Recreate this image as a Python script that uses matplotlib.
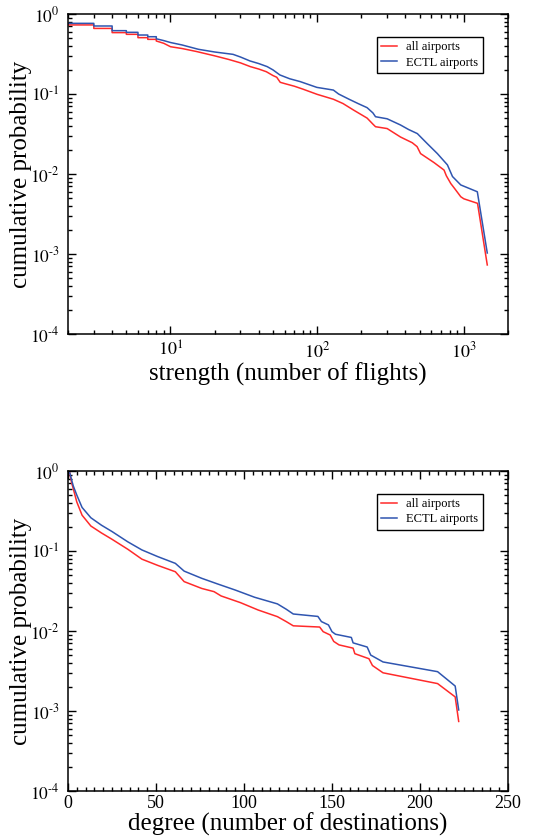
import numpy as np
import matplotlib.pyplot as plt
from matplotlib.ticker import LogLocator, MultipleLocator, FuncFormatter, NullFormatter

plt.rcParams['font.family'] = ['Liberation Serif', 'DejaVu Serif']
plt.rcParams['mathtext.fontset'] = 'stix'

# upper panel: strength (number of flights) vs cumulative probability
strength_all = [2, 3, 3, 4, 4, 5, 5, 6, 6, 7, 7, 8, 8, 9, 10, 12, 15, 20, 25, 30,
                35, 40, 45, 50, 53, 56, 60, 70, 80, 100, 129, 150, 177, 219, 240, 250, 300, 370, 445, 480,
                507, 626, 733, 760, 815, 870, 953, 1000, 1240, 1445]
cum_all = [0.73, 0.73, 0.66, 0.66, 0.585, 0.585, 0.557, 0.557, 0.506, 0.506, 0.482, 0.482, 0.46, 0.43, 0.39, 0.37, 0.34, 0.30, 0.27, 0.245,
           0.22, 0.205, 0.19, 0.17, 0.162, 0.14, 0.135, 0.125, 0.115, 0.099, 0.086, 0.076, 0.063, 0.05, 0.042, 0.039, 0.037, 0.029, 0.0246, 0.022,
           0.018, 0.0139, 0.0112, 0.0095, 0.0076, 0.0065, 0.0052, 0.0049, 0.0043, 0.00073]

strength_ectl = [2, 3, 3, 4, 4, 5, 5, 6, 6, 7, 7, 8, 8, 9, 10, 12, 15.5, 20, 26.7, 30,
                 34.8, 40, 45.6, 50, 55.7, 65, 76.5, 99.5, 129, 140, 165, 190, 219, 240, 250, 300, 370, 420, 482, 563,
                 660, 773, 837, 953, 1236, 1445]
cum_ectl = [0.764, 0.764, 0.708, 0.708, 0.619, 0.619, 0.59, 0.59, 0.546, 0.546, 0.52, 0.52, 0.49, 0.465, 0.44, 0.41, 0.362, 0.335, 0.313, 0.29,
            0.259, 0.24, 0.22, 0.2, 0.173, 0.155, 0.143, 0.121, 0.112, 0.1, 0.086, 0.076, 0.0675, 0.058, 0.052, 0.049, 0.041, 0.036, 0.032, 0.024,
            0.018, 0.013, 0.0093, 0.0073, 0.006, 0.00103]

# lower panel: degree (number of destinations) vs cumulative probability
degree_all = [1, 2, 3, 5, 8, 13, 19, 25, 34, 42, 51, 61, 66, 76, 83, 87, 98, 108, 119, 124,
              128, 143, 145, 149, 151, 154, 162, 163, 171, 173, 179, 210, 220, 222]
dcum_all = [0.95, 0.72, 0.6, 0.41, 0.28, 0.205, 0.168, 0.14, 0.105, 0.079, 0.066, 0.055, 0.0414, 0.034, 0.031, 0.0274, 0.0226, 0.0183, 0.0151, 0.0131,
            0.0116, 0.0112, 0.0098, 0.0089, 0.0074, 0.0067, 0.0061, 0.0052, 0.0045, 0.0037, 0.0030, 0.0022, 0.0015, 0.00074]

degree_ectl = [1, 2, 3, 5, 8, 13, 19, 25, 34, 42, 51, 61, 66, 76, 85, 95, 106, 119, 124, 128,
               142, 144, 148, 150, 152, 161, 162, 170, 172, 179, 210, 220, 222]
dcum_ectl = [0.95, 0.78, 0.65, 0.5, 0.35, 0.26, 0.21, 0.175, 0.13, 0.103, 0.085, 0.07, 0.056, 0.0455, 0.0387, 0.0325, 0.0264, 0.0218, 0.0187, 0.0163,
             0.0152, 0.0131, 0.0119, 0.0098, 0.0091, 0.0083, 0.0071, 0.0063, 0.0050, 0.0041, 0.0031, 0.00205, 0.00103]

RED = '#ff2a2a'
BLUE = '#2f55b0'


def pow10(v, pos):
    e = int(round(np.log10(v)))
    if e < 0:
        # short hyphen like the original, not the wide math minus
        return r'$10^{\text{-%d}}$' % (-e)
    return r'$10^{%d}$' % e


def style(ax):
    ax.set_yscale('log')
    ax.set_ylim(1e-4, 1)
    ax.yaxis.set_major_locator(LogLocator(base=10, numticks=10))
    ax.yaxis.set_minor_locator(LogLocator(base=10, subs=np.arange(2, 10), numticks=10))
    ax.yaxis.set_major_formatter(FuncFormatter(pow10))
    ax.yaxis.set_minor_formatter(NullFormatter())
    ax.tick_params(which='both', direction='in', top=True, right=True, labelsize=12.5, width=1.0)
    ax.tick_params(which='major', length=6, pad=6)
    ax.tick_params(which='minor', length=3)
    for s in ax.spines.values():
        s.set_linewidth(1.1)
    ax.set_ylabel('cumulative probability', fontsize=18)
    ax.yaxis.set_label_coords(-0.082, 0.5)
    leg = ax.legend(loc='upper right', bbox_to_anchor=(0.943, 0.928), fontsize=9,
                    fancybox=False, edgecolor='black', framealpha=1, handlelength=1.25,
                    borderpad=0.35, labelspacing=0.25, handletextpad=0.75, borderaxespad=0)
    leg.get_frame().set_linewidth(1.0)


fig = plt.figure(figsize=(5.43, 8.38), dpi=100)
ax1 = fig.add_axes([0.1252, 0.6014, 0.8103, 0.3819])
ax2 = fig.add_axes([0.1252, 0.0561, 0.8103, 0.3819])

ax1.plot(strength_all, cum_all, color=RED, lw=1.1, label='all airports')
ax1.plot(strength_ectl, cum_ectl, color=BLUE, lw=1.1, label='ECTL airports')
ax1.set_xscale('log')
ax1.set_xlim(2, 2000)
ax1.xaxis.set_major_locator(LogLocator(base=10, numticks=10))
ax1.xaxis.set_minor_locator(LogLocator(base=10, subs=np.arange(2, 10), numticks=10))
ax1.xaxis.set_major_formatter(FuncFormatter(pow10))
ax1.xaxis.set_minor_formatter(NullFormatter())
style(ax1)
ax1.tick_params(axis='x', which='major', pad=5, labelsize=13)
ax1.set_xlabel('strength (number of flights)', fontsize=18)
ax1.xaxis.set_label_coords(0.5, -0.088)

ax2.plot(degree_all, dcum_all, color=RED, lw=1.1, label='all airports')
ax2.plot(degree_ectl, dcum_ectl, color=BLUE, lw=1.1, label='ECTL airports')
ax2.set_xlim(0, 250)
ax2.xaxis.set_major_locator(MultipleLocator(50))
ax2.xaxis.set_minor_locator(MultipleLocator(5))
style(ax2)
ax2.tick_params(axis='x', which='major', pad=3, labelsize=13)
ax2.set_xlabel('degree (number of destinations)', fontsize=18)
ax2.xaxis.set_label_coords(0.5, -0.066)

fig.savefig('out.png', dpi=100)
